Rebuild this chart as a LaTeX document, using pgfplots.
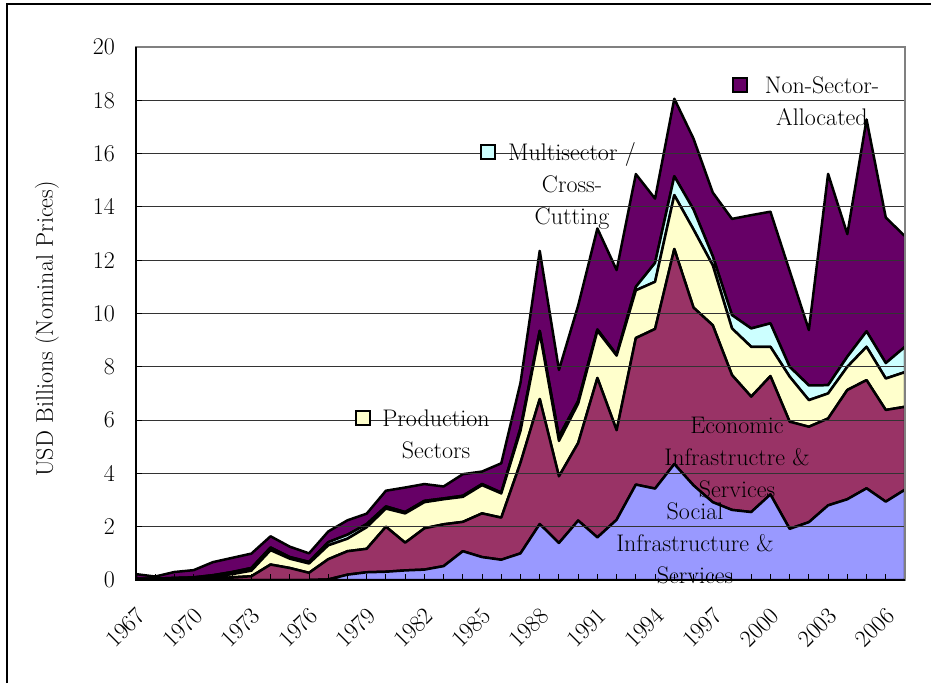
\documentclass[border=0pt]{standalone}
\usepackage{fontspec}
\usepackage{pgfplots}
\usepackage{pgfplotstable}
\pgfplotsset{compat=1.18}
\definecolor{socC}{HTML}{9999FF}
\definecolor{ecoC}{HTML}{993366}
\definecolor{prodC}{HTML}{FFFFCC}
\definecolor{multiC}{HTML}{CCFFFF}
\definecolor{nonC}{HTML}{660066}
\pgfplotstableread{
year soc eco prod multi non
1967 0.00 0.02 0.01 0.02 0.17
1968 0.00 0.02 0.01 0.02 0.08
1969 0.00 0.03 0.02 0.03 0.22
1970 0.00 0.04 0.03 0.03 0.27
1971 0.00 0.06 0.06 0.06 0.49
1972 0.00 0.10 0.12 0.08 0.53
1973 0.00 0.14 0.21 0.10 0.54
1974 0.00 0.58 0.54 0.10 0.42
1975 0.00 0.45 0.35 0.06 0.39
1976 0.00 0.27 0.35 0.06 0.32
1977 0.02 0.76 0.52 0.12 0.40
1978 0.20 0.88 0.47 0.15 0.54
1979 0.29 0.88 0.81 0.12 0.39
1980 0.31 1.69 0.68 0.08 0.59
1981 0.36 1.04 1.10 0.05 0.92
1982 0.39 1.55 0.98 0.05 0.63
1983 0.52 1.57 0.94 0.03 0.45
1984 1.08 1.10 0.94 0.04 0.81
1985 0.86 1.64 1.06 0.04 0.47
1986 0.76 1.58 0.91 0.03 1.10
1987 1.00 3.40 1.20 0.10 1.70
1988 2.10 4.69 2.49 0.07 3.00
1989 1.39 2.50 1.33 0.16 2.50
1990 2.23 2.91 1.48 0.10 3.58
1991 1.60 5.98 1.77 0.05 3.79
1992 2.26 3.36 2.80 0.03 3.18
1993 3.58 5.50 1.79 0.13 4.23
1994 3.43 5.99 1.77 0.71 2.41
1995 4.35 8.07 2.02 0.71 2.91
1996 3.55 6.67 2.93 0.75 2.66
1997 2.92 6.64 2.25 0.34 2.39
1998 2.63 5.06 1.75 0.50 3.61
1999 2.55 4.33 1.87 0.69 4.25
2000 3.21 4.44 1.10 0.88 4.19
2001 1.92 4.02 1.69 0.37 3.60
2002 2.17 3.58 1.00 0.55 2.08
2003 2.80 3.26 0.94 0.31 7.93
2004 3.03 4.10 0.87 0.38 4.60
2005 3.44 4.06 1.25 0.58 7.95
2006 2.94 3.44 1.18 0.58 5.46
2007 3.39 3.11 1.30 0.95 4.15
}\datatable
\newcommand{\lblfont}{\fontsize{24}{32}\selectfont\addfontfeature{LetterSpace=4}}
\newcommand{\tickfont}{\fontsize{24}{28}\selectfont}

\begin{document}
\begin{tikzpicture}
\useasboundingbox (0pt,0pt) rectangle (931pt,683pt);
\draw[line width=1.2pt] (7pt,0pt) -- (7pt,679pt) -- (931pt,679pt);
\begin{axis}[
  at={(136pt,103pt)}, anchor=south west,
  scale only axis, width=769pt, height=533pt,
  xmin=1967, xmax=2007, ymin=0, ymax=20,
  axis on top,
  stack plots=y,
  xtick={1967,1970,...,2006},
  minor xtick={1967,...,2007},
  ytick={0,2,...,20},
  xtick pos=left, ytick pos=left,
  tick align=inside,
  major tick length=6pt, minor tick length=6pt,
  tick style={black, line width=1pt},
  axis line style={black!50, line width=1.2pt},
  /pgf/number format/1000 sep={},
  /pgf/number format/assume math mode=true,
  yticklabel style={font=\tickfont, anchor=east, inner sep=0pt, xshift=-21pt},
  xticklabel style={font=\tickfont, rotate=45, anchor=east, inner sep=0pt, xshift=-19pt, yshift=-26pt},
]
\pgfplotsinvokeforeach{2,4,...,18}{
  \draw[black!80, line width=0.9pt] (axis cs:1967,#1) -- (axis cs:2007,#1);
}
\addplot[fill=socC, draw=black, line width=2.5pt, line join=round, mark=none] table[x=year,y=soc]{\datatable} \closedcycle;
\addplot[fill=ecoC, draw=black, line width=2.5pt, line join=round, mark=none] table[x=year,y=eco]{\datatable} \closedcycle;
\addplot[fill=prodC, draw=black, line width=2.5pt, line join=round, mark=none] table[x=year,y=prod]{\datatable} \closedcycle;
\addplot[fill=multiC, draw=black, line width=2.5pt, line join=round, mark=none] table[x=year,y=multi]{\datatable} \closedcycle;
\addplot[fill=nonC, draw=black, line width=2.5pt, line join=round, mark=none] table[x=year,y=non]{\datatable} \closedcycle;
\end{axis}
\draw[black, line width=1.5pt] (136pt,636pt) -- (136pt,103pt) -- (905pt,103pt);
\node[rotate=90, font=\tickfont] at (47pt,354pt) {USD Billions (Nominal Prices)};
% labels
\node[draw=black, line width=1.2pt, fill=nonC, minimum size=14pt, inner sep=0pt] at (740pt,598pt) {};
\node[align=center, font=\lblfont] at (822pt,582pt) {Non-Sector-\\Allocated};
\node[draw=black, line width=1.2pt, fill=multiC, minimum size=14pt, inner sep=0pt] at (488pt,531pt) {};
\node[align=center, font=\lblfont] at (572pt,497pt) {Multisector /\\Cross-\\Cutting};
\node[draw=black, line width=1.2pt, fill=prodC, minimum size=14pt, inner sep=0pt] at (363pt,265pt) {};
\node[align=center, font=\lblfont] at (436pt,249pt) {Production\\Sectors};
\node[align=center, font=\lblfont] at (737pt,225pt) {Economic\\Infrastructre \&\\Services};
\node[align=center, font=\lblfont] at (695pt,140pt) {Social\\Infrastructure \&\\Services};
\end{tikzpicture}
\end{document}
